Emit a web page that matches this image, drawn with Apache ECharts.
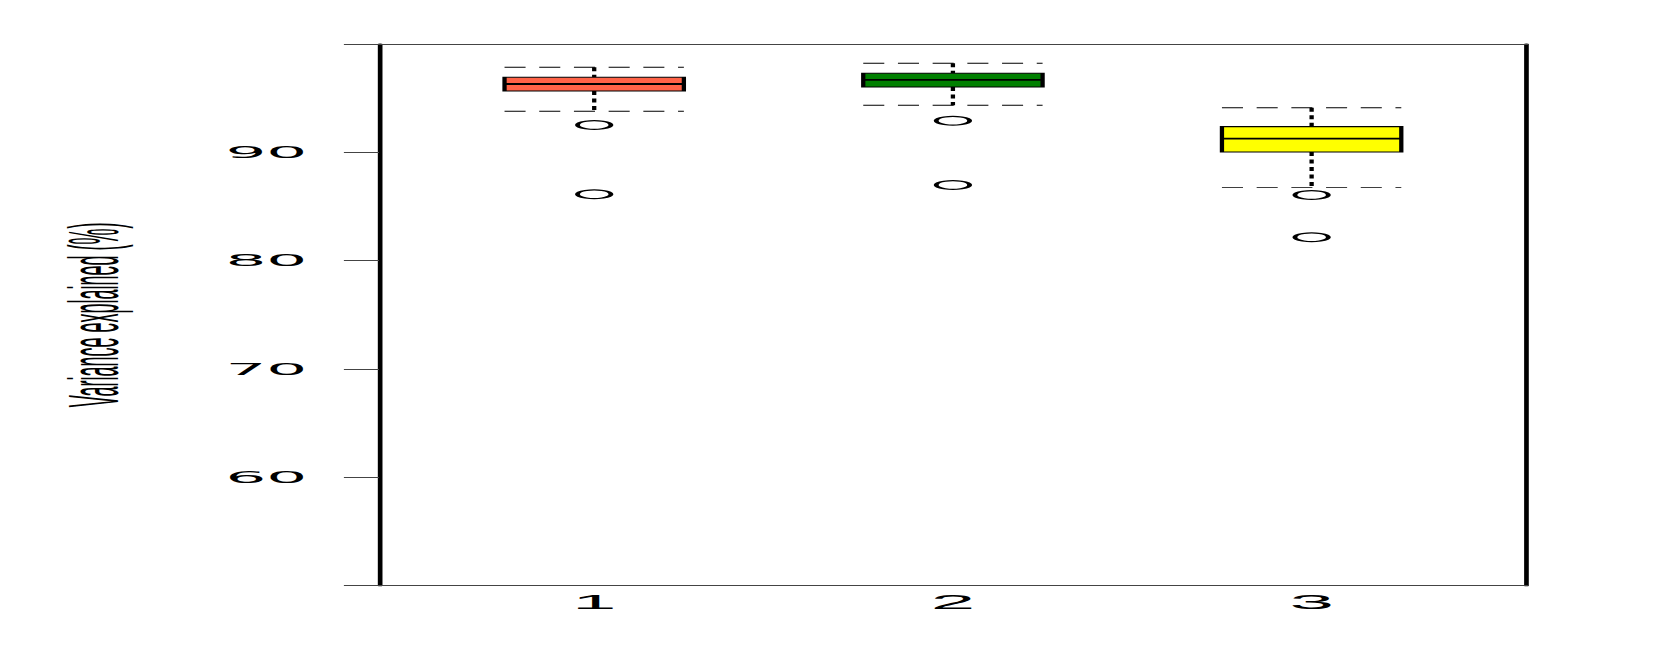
<!DOCTYPE html>
<html>
<head>
<meta charset="utf-8">
<script src="https://cdn.jsdelivr.net/npm/echarts@6/dist/echarts.min.js"></script>
<style>
  html, body { margin: 0; padding: 0; background: #fff; overflow: hidden; }
  #wrap { width: 1661px; height: 654px; overflow: hidden; }
  #chart { width: 426px; height: 654px; transform-origin: 0 0; transform: scaleX(3.899); }
</style>
</head>
<body>
<div id="wrap"><div id="chart"></div></div>
<script>
// ---- data ----
const categories = ['1', '2', '3'];
const lowerWhisker = [93.79, 94.34, 86.77];
const q1 = [95.66, 96.03, 90.03];
const median = [96.31, 96.68, 91.26];
const q3 = [96.93, 97.30, 92.37];
const upperWhisker = [97.85, 98.22, 94.12];
const outlierGroup = [1, 1, 2, 2, 3, 3];
const outlierValues = [92.52, 86.13, 92.92, 86.99, 86.06, 82.16];
const boxColors = ['#FF6347', '#008000', '#FFFF00'];
const yTickValues = [50, 60, 70, 80, 90, 100];
const yLabelValues = [60, 70, 80, 90];
const yAxisTitle = 'Variance explained (%)';

// ---- build series data ----
const boxData = categories.map((c, i) => [i + 1, lowerWhisker[i], q1[i], median[i], q3[i], upperWhisker[i]]);
const outlierData = outlierGroup.map((g, i) => [g, outlierValues[i]]);
const BOX_HALF = 0.25;

function renderBox(params, api) {
  const x = api.value(0);
  const lo = api.value(1), b1 = api.value(2), med = api.value(3), b3 = api.value(4), hi = api.value(5);
  const tl = api.coord([x - BOX_HALF, b3]);
  const br = api.coord([x + BOX_HALF, b1]);
  const mL = api.coord([x - BOX_HALF, med]);
  const mR = api.coord([x + BOX_HALF, med]);
  const hiL = api.coord([x - BOX_HALF, hi]);
  const hiR = api.coord([x + BOX_HALF, hi]);
  const loL = api.coord([x - BOX_HALF, lo]);
  const loR = api.coord([x + BOX_HALF, lo]);
  const cHi = api.coord([x, hi]);
  const cLo = api.coord([x, lo]);
  const cQ3 = api.coord([x, b3]);
  const cQ1 = api.coord([x, b1]);
  const dashCap = { stroke: '#000', lineWidth: 0.9, lineDash: [5.4, 3.5] };
  const dotWhisk = { stroke: '#000', lineWidth: 1.1, lineDash: [4, 3.5] };
  return {
    type: 'group',
    children: [
      { type: 'line', shape: { x1: hiL[0], y1: hiL[1], x2: hiR[0], y2: hiR[1] }, style: dashCap },
      { type: 'line', shape: { x1: loL[0], y1: loL[1], x2: loR[0], y2: loR[1] }, style: dashCap },
      { type: 'line', shape: { x1: cHi[0], y1: cHi[1], x2: cQ3[0], y2: cQ3[1] }, style: dotWhisk },
      { type: 'line', shape: { x1: cQ1[0], y1: cQ1[1], x2: cLo[0], y2: cLo[1] }, style: dotWhisk },
      { type: 'rect', shape: { x: tl[0], y: tl[1], width: br[0] - tl[0], height: br[1] - tl[1] },
        style: { fill: boxColors[params.dataIndex], stroke: '#000', lineWidth: 1.1 } },
      { type: 'line', shape: { x1: mL[0], y1: mL[1], x2: mR[0], y2: mR[1] }, style: { stroke: '#000', lineWidth: 1.8 } }
    ]
  };
}

const chart = echarts.init(document.getElementById('chart'), null, { renderer: 'svg' });
chart.setOption({
  animation: false,
  backgroundColor: '#fff',
  grid: { left: 97.2, right: 34.4, top: 44, bottom: 68.3, outerBoundsMode: 'none', containLabel: false },
  xAxis: [
    {
      type: 'value', min: 0.4, max: 3.6, position: 'bottom',
      axisLine: { show: true, onZero: false, lineStyle: { color: '#444', width: 1 } },
      axisTick: { show: false },
      splitLine: { show: false },
      axisLabel: {
        customValues: categories.map((c, i) => i + 1),
        formatter: v => categories[Math.round(v) - 1] || '',
        fontFamily: 'Liberation Sans', fontSize: 20.5, color: '#000', margin: 6
      }
    },
    {
      type: 'value', min: 0.4, max: 3.6, position: 'top',
      axisLine: { show: true, onZero: false, lineStyle: { color: '#444', width: 1 } },
      axisTick: { show: false }, axisLabel: { show: false }, splitLine: { show: false }
    }
  ],
  yAxis: [
    {
      type: 'value', min: 50, max: 100, interval: 10, position: 'left',
      name: yAxisTitle, nameLocation: 'middle', nameGap: 64, nameRotate: 90,
      nameTextStyle: { fontFamily: 'Liberation Sans', fontSize: 18, color: '#000' },
      axisLine: { show: true, onZero: false, lineStyle: { color: '#000', width: 1.2 } },
      axisTick: { show: true, length: 9, lineStyle: { color: '#444', width: 1 },
        customValues: yTickValues },
      splitLine: { show: false },
      axisLabel: {
        customValues: yLabelValues,
        formatter: v => String(v),
        fontFamily: 'DejaVu Sans', fontSize: 16.5, color: '#000', margin: 18.4
      }
    },
    {
      type: 'value', min: 50, max: 100, interval: 10, position: 'right',
      axisLine: { show: true, onZero: false, lineStyle: { color: '#000', width: 1.2 } },
      axisTick: { show: false }, axisLabel: { show: false }, splitLine: { show: false }
    }
  ],
  series: [
    {
      type: 'custom', xAxisIndex: 0, yAxisIndex: 0,
      renderItem: renderBox,
      encode: { x: 0, y: [1, 2, 3, 4, 5] },
      data: boxData, z: 2
    },
    {
      type: 'scatter', xAxisIndex: 0, yAxisIndex: 0,
      symbol: 'circle', symbolSize: 8.6,
      itemStyle: { color: '#fff', borderColor: '#000', borderWidth: 1.25, opacity: 1 },
      data: outlierData, z: 3
    }
  ]
});
</script>
</body>
</html>
